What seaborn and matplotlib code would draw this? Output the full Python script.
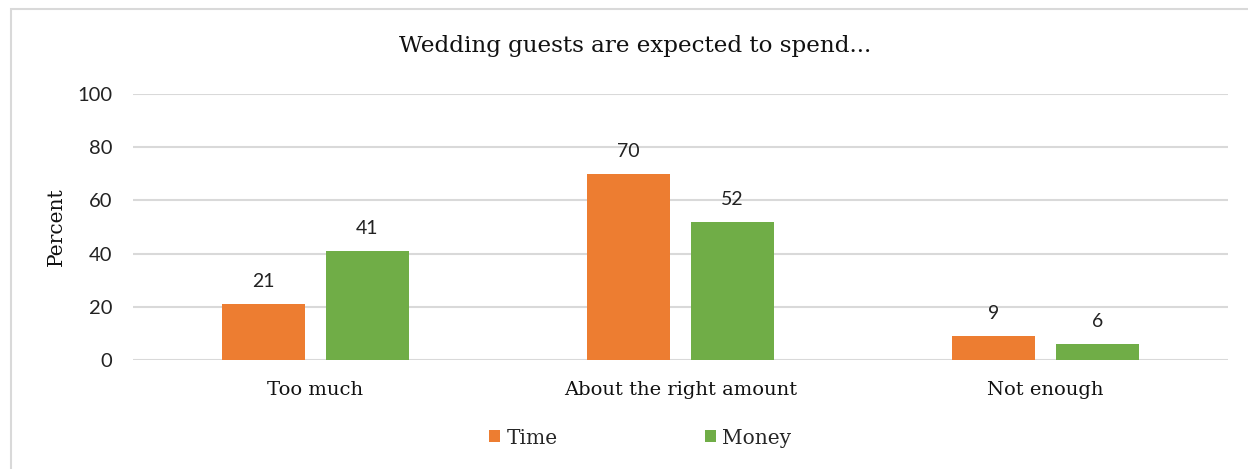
import matplotlib
matplotlib.use("Agg")
import matplotlib.pyplot as plt
import seaborn as sns
import pandas as pd
from matplotlib.patches import Rectangle, Patch

categories = ["Too much", "About the right amount", "Not enough"]
series = ["Time", "Money"]
time_values = [21, 70, 9]
money_values = [41, 52, 6]
yticks = [0, 20, 40, 60, 80, 100]
title = "Wedding guests are expected to spend..."
ylabel = "Percent"
colors = ["#ED7D31", "#70AD47"]

df = pd.DataFrame({
    "category": categories * 2,
    "series": [series[0]] * 3 + [series[1]] * 3,
    "value": time_values + money_values,
})

sns.set_theme(style="white")
serif = "DejaVu Serif"
sans = "Lato"

fig = plt.figure(figsize=(12.48, 4.69), dpi=100)
fig.patch.set_facecolor("white")
ax = fig.add_axes([133/1248, 1-360/469, (1228-133)/1248, (360-94)/469])

sns.barplot(data=df, x="category", y="value", hue="series", order=categories,
            hue_order=series, palette=colors, width=0.568, gap=0.2,
            saturation=1, linewidth=0, ax=ax, legend=False)

ax.set_xlim(-0.5, 2.5)
ax.set_ylim(0, 100)
ax.set_yticks(yticks)
ax.set_yticklabels([str(t) for t in yticks], fontfamily=sans, fontsize=14.5, color="#222222")
ax.set_xticks(range(len(categories)))
ax.set_xticklabels(categories, fontfamily=serif, fontsize=14, color="#111111")
ax.tick_params(axis="both", length=0)
ax.tick_params(axis="y", pad=15)
ax.tick_params(axis="x", pad=15)
ax.grid(axis="y", color="#D9D9D9", linewidth=1.5)
ax.set_axisbelow(True)
for s in ax.spines.values():
    s.set_visible(False)
ax.set_xlabel("")
ax.set_ylabel(ylabel, fontfamily=serif, fontsize=14.5, color="#111111", labelpad=8)

for cont in ax.containers:
    ax.bar_label(cont, labels=[f"{v:.0f}" for v in cont.datavalues], padding=10,
                 fontfamily=sans, fontsize=14, color="#222222")

fig.text(635/1248, 1-46/469, title, fontfamily=serif, fontsize=16.6, color="#111111",
         ha="center", va="center")

handles = [Patch(facecolor=c, edgecolor="none") for c in colors]
fig.legend(handles, series, loc="center", bbox_to_anchor=(640/1248, 1-438/469),
           ncol=2, frameon=False, prop={"family": serif, "size": 14.5},
           handlelength=0.55, handleheight=0.55, handletextpad=0.3, columnspacing=7.3)

fig.add_artist(Rectangle((11/1248, -0.1), 1.2, 1 - 9/469 + 0.1, transform=fig.transFigure,
                         fill=False, edgecolor="#D9D9D9", linewidth=1.5))

fig.savefig("out.png", dpi=100, facecolor="white")
